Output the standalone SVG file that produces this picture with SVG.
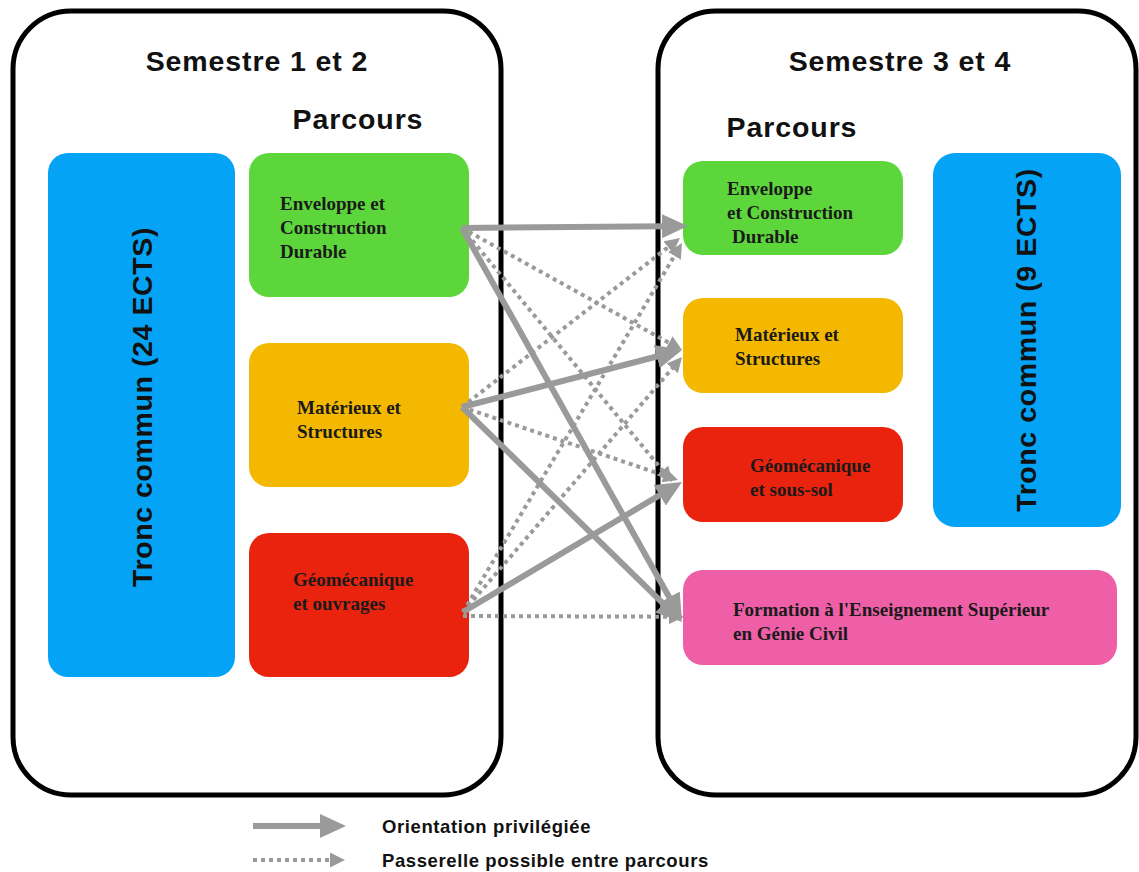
<svg xmlns="http://www.w3.org/2000/svg" width="1139" height="872" viewBox="0 0 1139 872">
<defs>
<style>
.frame{fill:#fff;stroke:#000;stroke-width:5}
.title{font-family:"Liberation Sans",Arial,sans-serif;font-weight:bold;font-size:28.5px;letter-spacing:0.9px;fill:#111}
.lbl{font-family:"Liberation Serif","Times New Roman",serif;font-weight:bold;font-size:19px;fill:#1a1a1a}
.tronc{font-family:"Liberation Sans",Arial,sans-serif;font-weight:bold;font-size:28.5px;letter-spacing:0.6px;fill:#111}
.leg{font-family:"Liberation Sans",Arial,sans-serif;font-weight:bold;font-size:18.5px;letter-spacing:0.6px;fill:#111}
.solid{stroke:#9a9a9a;stroke-width:6;fill:none;marker-end:url(#hs)}
.dot{stroke:#9a9a9a;stroke-width:4;stroke-dasharray:4 4;fill:none;marker-end:url(#hd)}
</style>
<marker id="hs" markerUnits="userSpaceOnUse" markerWidth="26" markerHeight="24" refX="4" refY="12" orient="auto">
<path d="M0,0 L26,12 L0,24 z" fill="#9a9a9a"/>
</marker>
<marker id="hd" markerUnits="userSpaceOnUse" markerWidth="15" markerHeight="15" refX="3" refY="7.5" orient="auto">
<path d="M0,0 L15,7.5 L0,15 z" fill="#9a9a9a"/>
</marker>
</defs>
<rect width="1139" height="872" fill="#fff"/>

<g id="sem12">
<rect class="frame" x="13" y="11" width="488" height="784" rx="58" ry="58"/>
<text class="title" x="257" y="71" text-anchor="middle">Semestre 1 et 2</text>
<text class="title" x="358" y="129" text-anchor="middle">Parcours</text>
</g>
<g id="sem34">
<rect class="frame" x="658" y="11" width="478" height="784" rx="58" ry="58"/>
<text class="title" x="900" y="71" text-anchor="middle">Semestre 3 et 4</text>
<text class="title" x="792" y="137" text-anchor="middle">Parcours</text>
</g>

<g id="tronc24">
<rect x="48" y="153" width="187" height="524" rx="20" fill="#05a3f6"/>
<text class="tronc" transform="translate(152,407) rotate(-90)" text-anchor="middle">Tronc commun (24 ECTS)</text>
</g>
<g id="l-env">
<rect x="249" y="153" width="220" height="144" rx="20" fill="#5dd63c"/>
<text class="lbl" x="280" y="210">Enveloppe et</text>
<text class="lbl" x="280" y="234">Construction</text>
<text class="lbl" x="280" y="258">Durable</text>
</g>
<g id="l-mat">
<rect x="249" y="343" width="220" height="144" rx="20" fill="#f5b800"/>
<text class="lbl" x="297" y="414">Matérieux et</text>
<text class="lbl" x="297" y="438">Structures</text>
</g>
<g id="l-geo">
<rect x="249" y="533" width="220" height="144" rx="20" fill="#ea230e"/>
<text class="lbl" x="293" y="586">Géomécanique</text>
<text class="lbl" x="293" y="610">et ouvrages</text>
</g>

<g id="r-env">
<rect x="683" y="161" width="220" height="94" rx="20" fill="#5dd63c"/>
<text class="lbl" x="727" y="195">Enveloppe</text>
<text class="lbl" x="727" y="219">et Construction</text>
<text class="lbl" x="732" y="243">Durable</text>
</g>
<g id="r-mat">
<rect x="683" y="298" width="220" height="95" rx="20" fill="#f5b800"/>
<text class="lbl" x="735" y="341">Matérieux et</text>
<text class="lbl" x="735" y="365">Structures</text>
</g>
<g id="r-geo">
<rect x="683" y="427" width="220" height="95" rx="20" fill="#ea230e"/>
<text class="lbl" x="750" y="472">Géomécanique</text>
<text class="lbl" x="750" y="496">et sous-sol</text>
</g>
<g id="tronc9">
<rect x="933" y="153" width="188" height="374" rx="22" fill="#05a3f6"/>
<text class="tronc" transform="translate(1036,340) rotate(-90)" text-anchor="middle">Tronc commun (9 ECTS)</text>
</g>
<g id="r-fes">
<rect x="683" y="570" width="434" height="95" rx="20" fill="#ee5fa7"/>
<text class="lbl" x="733" y="616">Formation à l'Enseignement Supérieur</text>
<text class="lbl" x="733" y="640">en Génie Civil</text>
</g>

<g id="connectors">
<line class="solid" x1="462" y1="228" x2="666" y2="226.2"/>
<line class="solid" x1="462" y1="228" x2="671.2" y2="600.8"/>
<line class="solid" x1="462" y1="407" x2="660.7" y2="355.5"/>
<line class="solid" x1="462" y1="407" x2="666.3" y2="606.6"/>
<line class="solid" x1="463" y1="612" x2="663.1" y2="493.2"/>
<line class="dot" x1="462" y1="228" x2="671.5" y2="344.2"/>
<line class="dot" x1="462" y1="228" x2="664.4" y2="472.7"/>
<line class="dot" x1="462" y1="407" x2="670.5" y2="245.4"/>
<line class="dot" x1="462" y1="407" x2="666.6" y2="476.2"/>
<line class="dot" x1="463" y1="616" x2="672" y2="616.7"/>
<line class="dot" x1="463" y1="612" x2="675.9" y2="253.3"/>
<line class="dot" x1="463" y1="612" x2="674.2" y2="366.1"/>
</g>

<g id="legend">
<line class="solid" x1="253" y1="826" x2="324" y2="826"/>
<text class="leg" x="382" y="833">Orientation privilégiée</text>
<line class="dot" x1="253" y1="860" x2="333" y2="860"/>
<text class="leg" x="382" y="867">Passerelle possible entre parcours</text>
</g>
</svg>
